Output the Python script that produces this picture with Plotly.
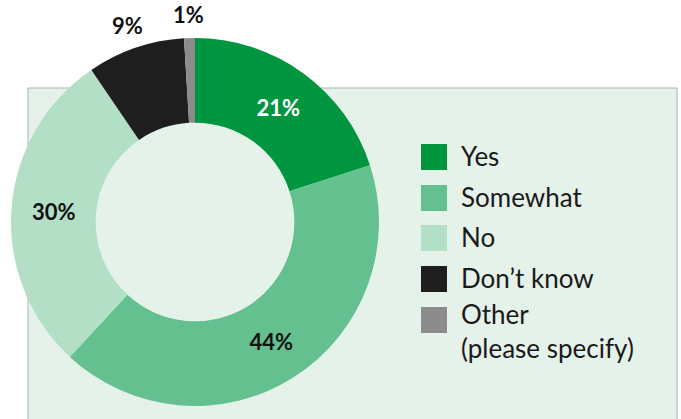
import math
import plotly.graph_objects as go

# Survey responses (percent of respondents)
categories = ["Yes", "Somewhat", "No", "Don\u2019t know", "Other<br>(please specify)"]
values = [21, 44, 30, 9, 1]
colors = ["#009640", "#64c08e", "#b2dfc6", "#1e1e1e", "#8c8c8c"]
label_colors = ["#ffffff", "#111111", "#111111", "#111111", "#111111"]
inside_label = [True, True, True, False, False]

W, H = 681, 419
FONT = "Lato, 'Open Sans', sans-serif"

# Donut geometry in pixels
CX, CY, R_OUT = 195, 222, 184

labels_text = [f"{v}%" for v in values]

fig = go.Figure()
fig.add_trace(go.Pie(
    labels=categories,
    values=values,
    text=[t if ins else "" for t, ins in zip(labels_text, inside_label)],
    textinfo="text",
    textposition=["inside" if ins else "none" for ins in inside_label],
    insidetextorientation="horizontal",
    textfont=dict(family=FONT, size=22, color=label_colors, weight="bold"),
    marker=dict(colors=colors, line=dict(width=0)),
    hole=0.54,
    sort=False,
    direction="clockwise",
    rotation=0,
    domain=dict(x=[(CX - R_OUT) / W, (CX + R_OUT) / W],
                y=[1 - (CY + R_OUT) / H, 1 - (CY - R_OUT) / H]),
    showlegend=False,
    hoverinfo="label+text",
))

# Light green backing panel
shapes = [dict(
    type="rect", xref="paper", yref="paper",
    x0=28 / W, x1=677 / W, y0=-0.05, y1=1 - 88 / H,
    fillcolor="#e5f2ea", line=dict(color="#aab3ae", width=1), layer="below",
)]
annotations = []

# Labels for the thin slices sit just outside the ring, at each slice's mid-angle
total = sum(values)
start = 0.0
for v, t, ins in zip(values, labels_text, inside_label):
    mid = (start + v / 2) / total * 2 * math.pi
    start += v
    if ins:
        continue
    r = R_OUT + 24
    px = CX + r * math.sin(mid)
    py = CY - r * math.cos(mid)
    annotations.append(dict(
        xref="paper", yref="paper", x=px / W, y=1 - py / H,
        xanchor="center", yanchor="middle", text=t, showarrow=False,
        font=dict(family=FONT, size=22, color="#111111", weight="bold"),
    ))

# Legend built from swatches and text; two-line names hang from the swatch row
row_y = [157, 198, 238, 279, 320]
for name, col, yc in zip(categories, colors, row_y):
    shapes.append(dict(
        type="rect", xref="paper", yref="paper",
        x0=421 / W, x1=447 / W, y0=1 - (yc + 13) / H, y1=1 - (yc - 13) / H,
        fillcolor=col, line=dict(width=0),
    ))
    n_lines = name.count("<br>") + 1
    annotations.append(dict(
        xref="paper", yref="paper", x=459 / W,
        y=1 - (yc - 1 + (n_lines - 1) * 12) / H,
        xanchor="left", yanchor="middle",
        text=name, showarrow=False, align="left",
        font=dict(family=FONT, size=26, color="#1a1a1a"),
    ))

fig.update_layout(
    width=W, height=H,
    margin=dict(l=0, r=0, t=0, b=0),
    paper_bgcolor="#ffffff",
    plot_bgcolor="#ffffff",
    shapes=shapes,
    annotations=annotations,
)

fig.write_html("out.html", post_script="document.body.style.margin='0';")
